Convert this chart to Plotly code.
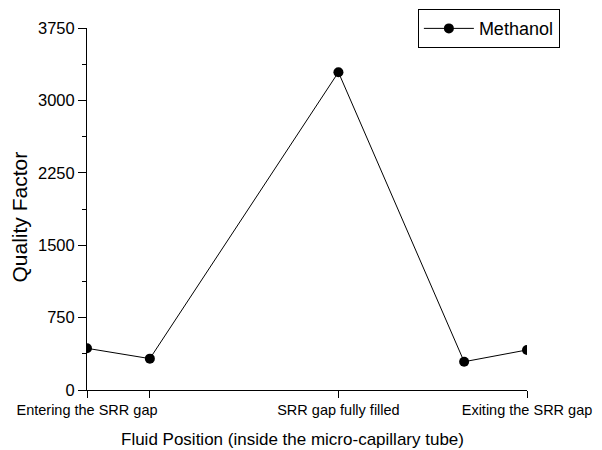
import plotly.graph_objects as go

x_pos = [0, 1, 4, 6, 7]
quality = [432, 325, 3292, 293, 415]
x_tickvals = [0, 1, 4, 7]
x_ticktext = ["Entering the SRR gap", "", "SRR gap fully filled", "Exiting the SRR gap"]
y_tickvals = [0, 750, 1500, 2250, 3000, 3750]
y_minor = [375, 1125, 1875, 2625, 3375]
x_title = "Fluid Position (inside the micro-capillary tube)"
y_title = "Quality Factor"

fig = go.Figure()
fig.add_trace(go.Scatter(
    x=x_pos, y=quality, mode="lines+markers", name="Methanol",
    line=dict(color="black", width=1),
    marker=dict(color="black", size=10),
))

font = "Liberation Sans, Arial, sans-serif"
# the page body adds an 8px offset, so the figure is 8px smaller on each axis
fig.update_layout(
    width=594, height=442,
    margin=dict(l=79, r=75, t=20, b=60, autoexpand=False),
    paper_bgcolor="white", plot_bgcolor="white",
    font=dict(family=font, color="black"),
    showlegend=True,
    legend=dict(x=0.752, y=1.052, xanchor="left", yanchor="top",
                bordercolor="black", borderwidth=1, bgcolor="white",
                font=dict(size=18), itemwidth=50, valign="middle",
                tracegroupgap=0),
    annotations=[
        dict(text=x_title, xref="paper", yref="paper", x=0.466, y=-0.138,
             xanchor="center", yanchor="middle", showarrow=False, font=dict(size=17)),
        dict(text=y_title, xref="paper", yref="paper", x=-0.1545, y=0.4765,
             xanchor="center", yanchor="middle", showarrow=False, textangle=-90,
             font=dict(size=21)),
    ],
)
fig.update_xaxes(
    range=[0, 7], tickvals=x_tickvals, ticktext=x_ticktext, automargin=False,
    showgrid=False, zeroline=False, showline=True, linecolor="black", linewidth=1,
    ticks="outside", ticklen=7, tickcolor="black",
    tickfont=dict(size=14.5),
)
fig.update_yaxes(
    range=[0, 3750], tickvals=y_tickvals, automargin=False,
    showgrid=False, zeroline=False, showline=True, linecolor="black", linewidth=1,
    ticks="outside", ticklen=8, tickcolor="black",
    tickfont=dict(size=16.5),
    minor=dict(tickvals=y_minor, ticks="outside", ticklen=4, tickcolor="black"),
)

fig.write_html("out.html")
